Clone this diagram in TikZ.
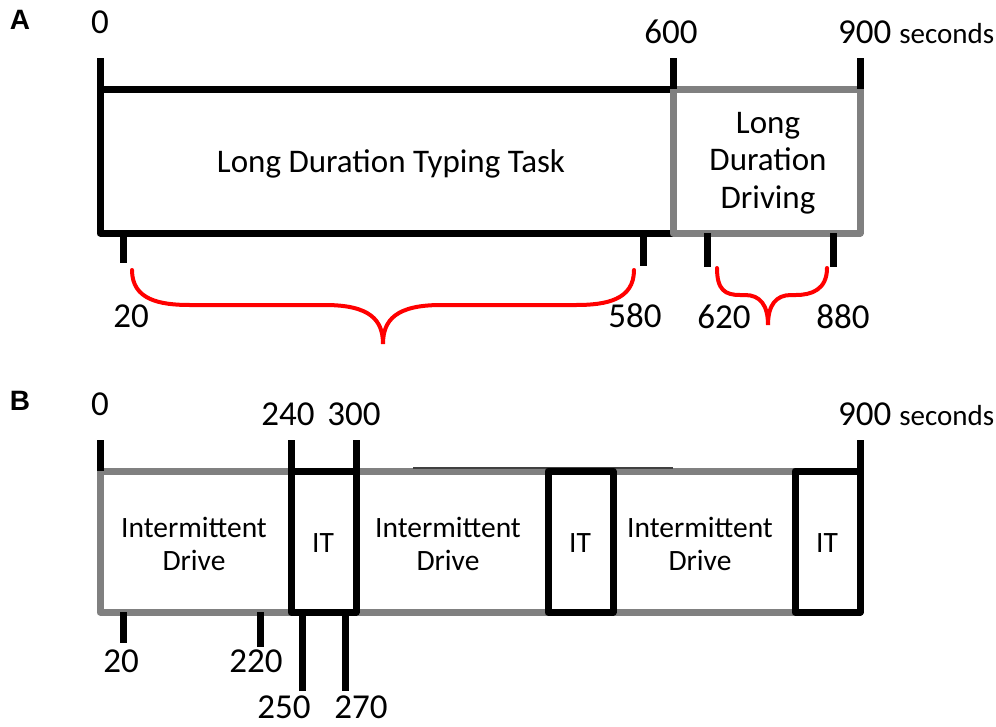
\documentclass[tikz,border=0pt]{standalone}
\usepackage{fontspec}
\setmainfont{Carlito}
\newfontfamily\panelfont{Liberation Sans}
\definecolor{boxgray}{RGB}{128,128,128}
\definecolor{bracered}{RGB}{255,0,0}
\newcommand{\numsize}{\fontsize{35}{42}\selectfont}
\newcommand{\unitsize}{\fontsize{29}{35}\selectfont}
\newcommand{\boxsize}{\fontsize{33}{37.5}\selectfont}
\newcommand{\drivesize}{\fontsize{29.5}{33}\selectfont}

\begin{document}
\begin{tikzpicture}[x=1pt,y=-1pt,
  blackline/.style={line width=7pt,black,line join=round},
  grayline/.style={line width=7pt,boxgray,line join=round},
  bracepath/.style={line width=4pt,bracered,line cap=round},
  num/.style={anchor=base,inner sep=0pt,font=\numsize},
  boxtext/.style={inner sep=0pt,align=center},
  panel/.style={anchor=base,inner sep=0pt,font={\panelfont\bfseries\fontsize{28}{32}\selectfont}}]
\useasboundingbox (0,0) rectangle (996,726);

% A: typing then driving
\node [panel] (pa) at (20,29) {A};
\draw [blackline] (100,89) rectangle (673,233);
\draw [grayline] (673,89) rectangle (860,233);
\draw [blackline] (100,58)--(100,89);
\draw [blackline] (673,58)--(673,89);
\draw [blackline] (860,58)--(860,89);
\draw [blackline] (123,233)--(123,263);
\draw [blackline] (643,233)--(643,266);
\draw [blackline] (707,233)--(707,267);
\draw [blackline] (833,233)--(833,267);
\node [num] (a0) at (100,33) {0};
\node [num] (a600) at (671,43) {600};
\node [num,anchor=base west] (a900) at (838,43) {900 {\unitsize seconds}};
\node [boxtext,anchor=base,font=\boxsize] (typing) at (391,172) {Long Duration Typing Task};
\node [boxtext,font=\boxsize] (driving) at (768,163) {Long\\Duration\\Driving};
\draw [bracepath] (132,270) .. controls (132,300) and (160,305) .. (190,305) -- (325,305)
  .. controls (370,305) and (383,320) .. (383,344)
  .. controls (383,320) and (396,305) .. (441,305) -- (576,305)
  .. controls (606,305) and (634,300) .. (634,270);
\draw [bracepath] (717,268) .. controls (717,290) and (725,295) .. (740,295) -- (745,295)
  .. controls (760,295) and (768,305) .. (768,325)
  .. controls (768,305) and (776,295) .. (791,295) -- (796,295)
  .. controls (811,295) and (827,290) .. (827,268);
\node [num] (a20) at (131,327) {20};
\node [num] (a580) at (635,327) {580};
\node [num] (a620) at (724,328) {620};
\node [num] (a880) at (843,328) {880};

% B: intermittent drive with typing
\node [panel] (pb) at (20,410) {B};
\draw [grayline] (100,471) rectangle (860,612);
\draw [line width=1.5pt,black!75] (413,468)--(673,468);
\draw [blackline] (291,471) rectangle (356,612);
\draw [blackline] (548,471) rectangle (613,612);
\draw [blackline] (795,471) rectangle (860,612);
\draw [blackline] (100,440)--(100,471);
\draw [blackline] (291,440)--(291,471);
\draw [blackline] (356,440)--(356,471);
\draw [blackline] (860,440)--(860,471);
\draw [blackline] (123,612)--(123,643);
\draw [blackline] (260,612)--(260,647);
\draw [blackline] (302,612)--(302,691);
\draw [blackline] (345,612)--(345,691);
\node [num] (b0) at (100,415) {0};
\node [num] (b240) at (288,425) {240};
\node [num] (b300) at (354,425) {300};
\node [num,anchor=base west] (b900) at (838,425) {900 {\unitsize seconds}};
\node [boxtext,font=\drivesize] (drive1) at (194,544) {Intermittent\\Drive};
\node [boxtext,font=\drivesize] (drive2) at (448,544) {Intermittent\\Drive};
\node [boxtext,font=\drivesize] (drive3) at (700,544) {Intermittent\\Drive};
\node [boxtext,font=\drivesize] (it1) at (323,543) {IT};
\node [boxtext,font=\drivesize] (it2) at (580,543) {IT};
\node [boxtext,font=\drivesize] (it3) at (827,543) {IT};
\node [num] (b20) at (121,672) {20};
\node [num] (b220) at (256,672) {220};
\node [num] (b250) at (284,718) {250};
\node [num] (b270) at (361,718) {270};
\end{tikzpicture}
\end{document}
